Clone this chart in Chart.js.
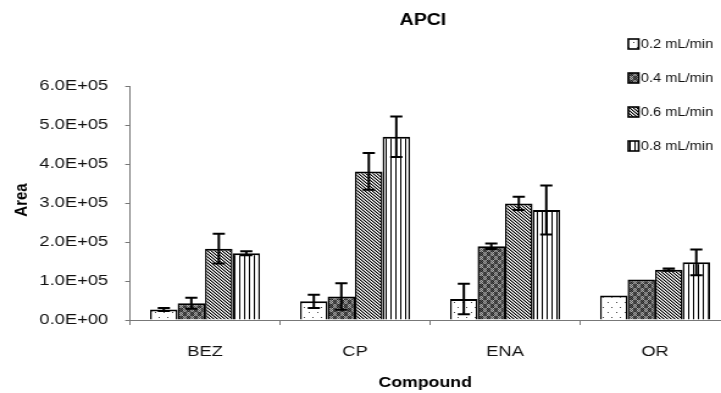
<!DOCTYPE html>
<html><head><meta charset="utf-8">
<script src="https://cdn.jsdelivr.net/npm/chart.js@4.4.1/dist/chart.umd.min.js"></script>
<style>
html,body{margin:0;padding:0;background:#fff;overflow:hidden;width:721px;height:393px;}
#wrap{width:610px;height:393px;transform:scaleX(1.22);transform-origin:0 0;}
canvas{display:block;}
</style></head><body>
<div id="wrap"><canvas id="c" width="610" height="393"></canvas></div>
<script>
// ---- data ----
const categories = ['BEZ', 'CP', 'ENA', 'OR'];
const seriesNames = ['0.2 mL/min', '0.4 mL/min', '0.6 mL/min', '0.8 mL/min'];
const flow02 = [27000, 48000, 54000, 63000];
const flow04 = [43000, 60000, 189000, 104000];
const flow06 = [183000, 381000, 299000, 129000];
const flow08 = [171000, 470000, 282000, 148000];
const err02 = [4000, 17000, 39000, 0];
const err04 = [14000, 34000, 7000, 0];
const err06 = [38000, 47000, 17000, 3000];
const err08 = [5000, 52000, 63000, 33000];
const yTickLabels = ['0.0E+00', '1.0E+05', '2.0E+05', '3.0E+05', '4.0E+05', '5.0E+05', '6.0E+05'];
const chartTitle = 'APCI';
const xTitle = 'Compound';
const yTitle = 'Area';

const values = [flow02, flow04, flow06, flow08];
const errors = [err02, err04, err06, err08];
const FONT = '"Liberation Sans", Arial, sans-serif';

// ---- patterns ----
function makePattern(w, h, painter) {
  const c = document.createElement('canvas');
  c.width = w; c.height = h;
  const g = c.getContext('2d');
  painter(g, w, h);
  return document.getElementById('c').getContext('2d').createPattern(c, 'repeat');
}
const patDots = makePattern(7, 10, (g, w, h) => {
  g.fillStyle = '#fff'; g.fillRect(0, 0, w, h);
  g.fillStyle = '#444'; g.fillRect(1, 2, 1, 1); g.fillRect(4, 7, 1, 1);
});
const patCheck = makePattern(6, 8, (g, w, h) => {
  for (let i = 0; i < w; i++) for (let j = 0; j < h; j++) {
    const blk = (Math.floor(i / 3) + Math.floor(j / 4)) % 2;
    const odd = (i + j) % 2;
    g.fillStyle = blk === 0 ? (odd ? '#222' : '#5a5a5a') : (odd ? '#5a5a5a' : '#aaa');
    g.fillRect(i, j, 1, 1);
  }
});
const patDiag = makePattern(3, 3, (g, w, h) => {
  g.fillStyle = '#fff'; g.fillRect(0, 0, w, h);
  for (let i = 0; i < 3; i++) {
    g.fillStyle = '#000'; g.fillRect(i, i, 1, 1);
    g.fillStyle = '#999'; g.fillRect((i + 1) % 3, i, 1, 1);
  }
});
const patVert = makePattern(4, 1, (g, w, h) => {
  g.fillStyle = '#fff'; g.fillRect(0, 0, w, h);
  g.fillStyle = '#000'; g.fillRect(0, 0, 1, 1);
});
const patterns = [patDots, patCheck, patDiag, patVert];

// ---- plugins ----
const errorBars = {
  id: 'errorBars',
  afterDatasetsDraw(chart) {
    const ctx = chart.ctx, y = chart.scales.y;
    ctx.save();
    ctx.strokeStyle = '#000';
    ctx.lineWidth = 2;
    chart.data.datasets.forEach((ds, di) => {
      const meta = chart.getDatasetMeta(di);
      meta.data.forEach((bar, i) => {
        const e = errors[di][i];
        if (!e) return;
        const v = ds.data[i];
        const yt = y.getPixelForValue(v + e), yb = y.getPixelForValue(v - e);
        const x = bar.x;
        ctx.beginPath();
        ctx.moveTo(x, yt); ctx.lineTo(x, yb);
        ctx.moveTo(x - 5, yt); ctx.lineTo(x + 5, yt);
        ctx.moveTo(x - 5, yb); ctx.lineTo(x + 5, yb);
        ctx.stroke();
      });
    });
    ctx.restore();
  }
};
const decor = {
  id: 'decor',
  afterDraw(chart) {
    const ctx = chart.ctx;
    const area = chart.chartArea;
    ctx.save();
    ctx.fillStyle = '#000';
    ctx.textAlign = 'center';
    ctx.textBaseline = 'middle';
    ctx.font = 'bold 16px ' + FONT;
    ctx.fillText(chartTitle, 346.7, 21);
    // axis titles
    ctx.font = 'bold 14.5px ' + FONT;
    ctx.fillText(xTitle, (area.left + area.right) / 2 - 4, 383);
    ctx.save();
    ctx.translate(18, 200);
    ctx.rotate(-Math.PI / 2);
    ctx.font = 'bold 15px ' + FONT;
    ctx.fillText(yTitle, 0, 0);
    ctx.restore();
    // legend
    const rows = [44, 78, 112, 146];
    ctx.font = '12px ' + FONT;
    ctx.textAlign = 'left';
    seriesNames.forEach((n, i) => {
      const yc = rows[i];
      ctx.fillStyle = patterns[i];
      ctx.fillRect(515, yc - 5, 8.5, 10);
      ctx.strokeStyle = '#000';
      ctx.lineWidth = 1.6;
      ctx.strokeRect(515, yc - 5, 8.5, 10);
      ctx.fillStyle = '#111';
      ctx.fillText(n, 525.3, yc + 0.5);
    });
    ctx.restore();
  }
};

new Chart(document.getElementById('c'), {
  type: 'bar',
  data: {
    labels: categories,
    datasets: seriesNames.map((n, i) => ({
      label: n,
      data: values[i],
      backgroundColor: patterns[i],
      borderColor: '#000',
      borderWidth: {top: 2, left: 1.5, right: 1.5, bottom: 0},
      categoryPercentage: 0.733,
      barPercentage: 1
    }))
  },
  options: {
    responsive: false,
    animation: false,
    devicePixelRatio: 1,
    layout: {padding: {left: 0, right: 11.6, top: 86, bottom: 0}},
    plugins: {legend: {display: false}, title: {display: false}, tooltip: {enabled: false}},
    scales: {
      x: {
        grid: {display: true, drawOnChartArea: false, drawTicks: true, tickLength: 5, color: '#777', offset: true},
        border: {display: true, color: '#777', width: 1},
        ticks: {color: '#111', font: {family: FONT, size: 15}, padding: 18, maxRotation: 0, autoSkip: false},
        title: {display: false},
        afterFit(s) { s.height = 73; }
      },
      y: {
        min: 0, max: 600000,
        ticks: {stepSize: 100000, color: '#111', font: {family: FONT, size: 15}, padding: 14,
          callback: (v) => yTickLabels[Math.round(v / 100000)]},
        grid: {display: true, drawOnChartArea: false, drawTicks: true, tickLength: 4, color: '#777'},
        border: {display: true, color: '#777', width: 1},
        title: {display: false},
        afterFit(s) { s.width = 106.6; }
      }
    }
  },
  plugins: [errorBars, decor]
});
</script>
</body></html>
